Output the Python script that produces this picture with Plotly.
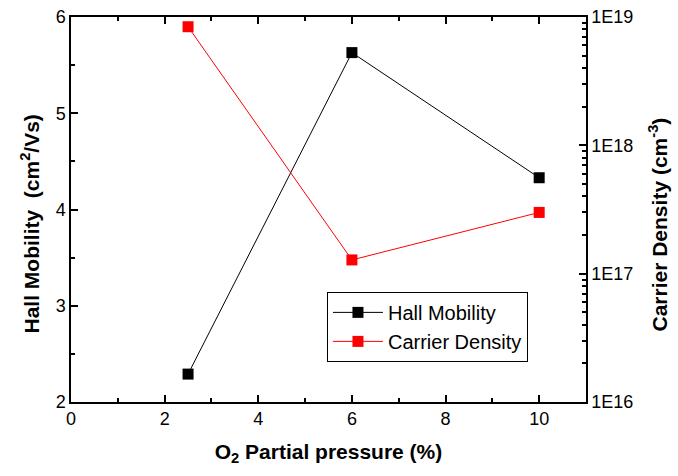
import plotly.graph_objects as go

# O2 partial pressure (%) and measured film properties
o2_pressure = [2.5, 6, 10]
hall_mobility = [2.29, 5.63, 4.33]          # cm^2/Vs
carrier_density = [8.4e18, 1.28e17, 3.0e17]  # cm^-3

decade_vals = [1e16, 1e17, 1e18, 1e19]
decade_text = ["1E16", "1E17", "1E18", "1E19"]
minor_log_vals = [m * 10 ** e for e in (16, 17, 18) for m in range(2, 10)]

FONT = "Liberation Sans, Arial, sans-serif"
TITLE_FONT = dict(family=FONT, size=21, weight="bold", color="black")

fig = go.Figure()
fig.add_trace(go.Scatter(
    x=o2_pressure, y=hall_mobility, name="Hall Mobility",
    mode="lines+markers",
    line=dict(color="black", width=1),
    marker=dict(symbol="square", size=11, color="black"),
))
fig.add_trace(go.Scatter(
    x=o2_pressure, y=carrier_density, name="Carrier Density",
    mode="lines+markers", yaxis="y2",
    line=dict(color="red", width=1),
    marker=dict(symbol="square", size=11, color="red"),
))

axis_common = dict(
    showline=True, linecolor="black", linewidth=1.5,
    ticks="inside", ticklen=7, tickwidth=1.5, tickcolor="black",
    showgrid=False, zeroline=False,
    tickfont=dict(family=FONT, size=18, color="black"),
    automargin=False,
)
minor_style = dict(ticks="inside", ticklen=4, tickwidth=1.5, tickcolor="black")

fig.update_layout(
    width=678, height=476,
    margin=dict(l=71, r=92, t=17, b=74),
    paper_bgcolor="white", plot_bgcolor="white",
    font=dict(family=FONT, color="black"),
    xaxis=dict(
        **axis_common,
        range=[0, 11], tickvals=[0, 2, 4, 6, 8, 10], mirror="ticks",
        minor=dict(tickvals=[1, 3, 5, 7, 9], **minor_style),
        title=dict(text="O<sub>2</sub> Partial pressure (%)",
                   font=TITLE_FONT, standoff=16),
    ),
    yaxis=dict(
        **axis_common,
        range=[2, 6], tickvals=[2, 3, 4, 5, 6],
        minor=dict(tickvals=[2.5, 3.5, 4.5, 5.5], **minor_style),
    ),
    yaxis2=dict(
        **axis_common,
        type="log", range=[16, 19], overlaying="y", side="right",
        tickvals=decade_vals, ticktext=decade_text,
        minor=dict(tickvals=minor_log_vals, **minor_style),
    ),
    legend=dict(
        x=0.497, y=0.286, xanchor="left", yanchor="top",
        bordercolor="black", borderwidth=1, bgcolor="white",
        font=dict(family=FONT, size=20, color="black"),
        tracegroupgap=0, itemwidth=50,
    ),
    showlegend=True,
)

# Vertical axis titles, placed beside each y axis
fig.add_annotation(
    text="Hall Mobility\u00a0 (cm<sup>2</sup>/Vs)", textangle=-90,
    xref="paper", yref="paper", x=-0.0796, y=0.461,
    xanchor="center", yanchor="middle", showarrow=False, font=TITLE_FONT,
)
fig.add_annotation(
    text="Carrier Density (cm<sup>-3</sup>)", textangle=-90,
    xref="paper", yref="paper", x=1.1398, y=0.461,
    xanchor="center", yanchor="middle", showarrow=False, font=TITLE_FONT,
)

fig.write_html("out.html")
